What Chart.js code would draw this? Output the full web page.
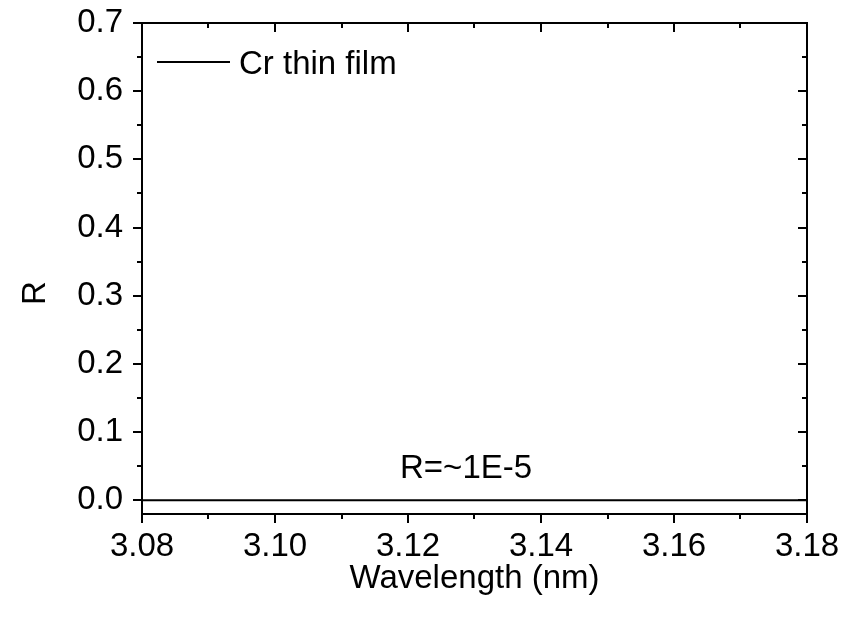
<!DOCTYPE html>
<html>
<head>
<meta charset="utf-8">
<script src="https://cdn.jsdelivr.net/npm/chart.js@4/dist/chart.umd.min.js"></script>
<style>
  html, body { margin: 0; padding: 0; background: #fff; }
  #c { display: block; }
</style>
</head>
<body>
<canvas id="c" width="848" height="617"></canvas>
<script>
// ---- data ----
const wavelength = [3.08, 3.09, 3.10, 3.11, 3.12, 3.13, 3.14, 3.15, 3.16, 3.17, 3.18];
const reflectance = [1e-5, 1e-5, 1e-5, 1e-5, 1e-5, 1e-5, 1e-5, 1e-5, 1e-5, 1e-5, 1e-5];
const seriesLabel = 'Cr thin film';
const xTitle = 'Wavelength (nm)';
const yTitle = 'R';
const noteText = 'R=~1E-5';
const noteAt = [3.1188, 0.0333];
const xRange = [3.08, 3.18];
const yRange = [-0.02, 0.7];
const xStep = 0.02;
const yStep = 0.1;

const FONT = '"Liberation Sans", Arial, sans-serif';
const FS = 33;

const framePlugin = {
  id: 'frame',
  afterDraw(chart) {
    const ctx = chart.ctx;
    const {left, right, top, bottom} = chart.chartArea;
    const xs = chart.scales.x, ys = chart.scales.y;
    const MAJ = 9, MIN = 5;
    ctx.save();
    ctx.strokeStyle = '#000';
    ctx.lineWidth = 2;
    // top & right frame
    ctx.beginPath();
    ctx.moveTo(left - 1, top); ctx.lineTo(right, top); ctx.lineTo(right, bottom + 1);
    ctx.stroke();
    // ticks
    const xt = xs.ticks.map(t => t.value);
    const yt = ys.ticks.map(t => t.value);
    const xMinor = [], yMinor = [];
    for (let i = 0; i < xt.length - 1; i++) xMinor.push((xt[i] + xt[i + 1]) / 2);
    for (let i = 0; i < yt.length - 1; i++) yMinor.push((yt[i] + yt[i + 1]) / 2);
    ctx.beginPath();
    xt.forEach(v => {
      const p = Math.round(xs.getPixelForValue(v));
      ctx.moveTo(p, bottom); ctx.lineTo(p, bottom + MAJ);
      ctx.moveTo(p, top); ctx.lineTo(p, top + MAJ);
    });
    xMinor.forEach(v => {
      const p = Math.round(xs.getPixelForValue(v));
      ctx.moveTo(p, bottom); ctx.lineTo(p, bottom + MIN);
      ctx.moveTo(p, top); ctx.lineTo(p, top + MIN);
    });
    yt.forEach(v => {
      const p = Math.round(ys.getPixelForValue(v));
      ctx.moveTo(left, p); ctx.lineTo(left - MAJ, p);
      ctx.moveTo(right, p); ctx.lineTo(right - MAJ, p);
    });
    yMinor.forEach(v => {
      const p = Math.round(ys.getPixelForValue(v));
      ctx.moveTo(left, p); ctx.lineTo(left - MIN, p);
      ctx.moveTo(right, p); ctx.lineTo(right - MIN, p);
    });
    ctx.stroke();

    // legend
    ctx.font = FS + 'px ' + FONT;
    ctx.fillStyle = '#000';
    ctx.beginPath();
    ctx.moveTo(157, 62); ctx.lineTo(230, 62);
    ctx.stroke();
    ctx.textAlign = 'left';
    ctx.textBaseline = 'alphabetic';
    ctx.fillText(chart.data.datasets[0].label, 239, 73.5);

    // annotation
    ctx.fillText(noteText, xs.getPixelForValue(noteAt[0]), ys.getPixelForValue(noteAt[1]));

    // y title
    ctx.save();
    ctx.translate(45, 293);
    ctx.rotate(-Math.PI / 2);
    ctx.textAlign = 'center';
    ctx.fillText(yTitle, 0, 0);
    ctx.restore();
    ctx.restore();
  }
};

new Chart(document.getElementById('c'), {
  type: 'line',
  data: {
    datasets: [{
      label: seriesLabel,
      data: wavelength.map((w, i) => ({x: w, y: reflectance[i]})),
      borderColor: '#000',
      borderWidth: 2,
      pointRadius: 0,
      tension: 0,
      fill: false
    }]
  },
  options: {
    responsive: false,
    animation: false,
    devicePixelRatio: 1,
    layout: { padding: { top: 23, right: 41, left: 0, bottom: 0 } },
    plugins: { legend: { display: false }, tooltip: { enabled: false } },
    scales: {
      x: {
        type: 'linear',
        min: xRange[0], max: xRange[1],
        afterFit(s) { s.height = 103; s.paddingLeft = 0; s.paddingRight = 0; },
        grid: { display: true, drawOnChartArea: false, drawTicks: false },
        border: { display: true, color: '#000', width: 2 },
        ticks: {
          stepSize: xStep, includeBounds: false, padding: 13,
          color: '#000', maxRotation: 0, autoSkip: false,
          font: { family: FONT, size: FS, lineHeight: 1.2 },
          callback: v => Number(v).toFixed(2)
        },
        title: {
          display: true, text: xTitle, color: '#000',
          font: { family: FONT, size: FS, lineHeight: 1.2 },
          padding: { top: 0, bottom: 18 }
        }
      },
      y: {
        type: 'linear',
        min: yRange[0], max: yRange[1],
        afterFit(s) { s.width = 142; s.paddingTop = 0; s.paddingBottom = 0; },
        grid: { display: true, drawOnChartArea: false, drawTicks: false },
        border: { display: true, color: '#000', width: 2 },
        ticks: {
          stepSize: yStep, includeBounds: false, padding: 19,
          color: '#000', autoSkip: false,
          font: { family: FONT, size: FS, lineHeight: 1.2 },
          callback: v => Number(v).toFixed(1)
        },
        title: { display: false }
      }
    }
  },
  plugins: [framePlugin]
});
</script>
</body>
</html>
